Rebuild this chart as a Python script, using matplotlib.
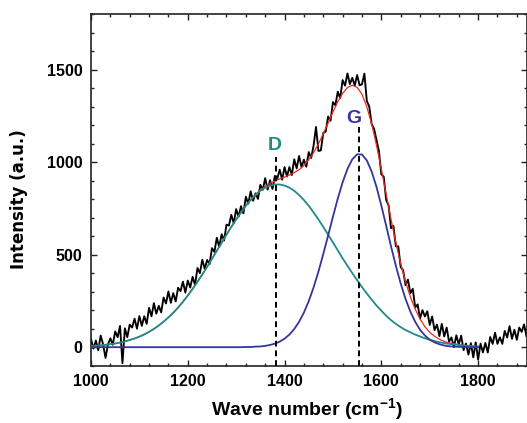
"""
plot.py - Raman spectrum with D / G band deconvolution
"""

import matplotlib
matplotlib.use("Agg")
import matplotlib.pyplot as plt
from matplotlib.ticker import MultipleLocator

# ----------------------------------------------------------------------
# DATA
# ----------------------------------------------------------------------
# measured spectrum, 5 cm-1 steps from 1000 to 1900
wn_raw = list(range(1000, 1901, 5))
intensity_raw = [
    45, -8, 36, -16, 63, 15, -58, 14, 48, 13,
    85, 54, 115, -87, 102, 54, 122, 106, 154, 100,
    168, 115, 167, 126, 213, 167, 238, 181, 224, 188,
    268, 236, 301, 240, 292, 247, 321, 303, 354, 295,
    360, 322, 380, 336, 428, 400, 472, 424, 471, 449,
    535, 515, 591, 541, 610, 576, 662, 657, 715, 669,
    746, 705, 762, 723, 813, 775, 842, 791, 831, 801,
    877, 850, 913, 851, 902, 855, 925, 911, 959, 905,
    973, 922, 973, 930, 1015, 966, 1033, 973, 1013, 975,
    1054, 1022, 1089, 1190, 1060, 1063, 1157, 1164, 1246, 1223,
    1324, 1307, 1380, 1346, 1443, 1413, 1479, 1421, 1455, 1414,
    1470, 1415, 1420, 1478, 1330, 1300, 1205, 1180, 1120, 1060,
    934, 921, 795, 767, 643, 655, 545, 545, 433, 416,
    335, 365, 292, 315, 214, 231, 155, 200, 166, 194,
    120, 166, 92, 122, 60, 126, 58, 106, 29, 53,
    0, 64, 15, 62, -16, 20, -40, 22, -55, 26,
    -67, 19, -28, 23, -29, 55, 18, 78, 18, 53,
    18, 88, 52, 114, 45, 94, 40, 106, 83, 123,
    59,
]

# fitted bands, 10 cm-1 steps from 1000 to 1800
wn_fit = list(range(1000, 1801, 10))
band_d = [
    6, 8, 10, 13, 16, 20, 25, 31, 39, 47,
    57, 69, 83, 99, 117, 138, 161, 186, 214, 245,
    279, 315, 353, 393, 434, 477, 521, 564, 608, 650,
    690, 728, 764, 795, 822, 845, 862, 873, 879, 879,
    873, 862, 845, 822, 795, 764, 728, 690, 650, 608,
    566, 523, 480, 440, 400, 362, 325, 290, 257, 225,
    197, 170, 146, 126, 108, 93, 80, 68, 58, 48,
    40, 33, 27, 22, 18, 15, 12, 9, 7, 5,
    4,
]
band_g = [0] * 32 + [
    1, 1, 3, 4, 7, 12, 19, 30,
    46, 68, 98, 137, 187, 249, 323, 408, 503, 603,
    705, 803, 891, 963, 1015, 1042, 1041, 1009, 949, 866,
    765, 656, 545, 440, 344, 261, 192, 137, 94, 63,
    41, 26, 16, 9, 5, 3, 2, 1, 0, 0,
    0,
]
fit_total = [d + g for d, g in zip(band_d, band_g)]

# band positions and labels
band_names = ["D", "G"]
band_pos = [1383, 1553]
marker_top = [1030, 1190]
label_x = [1380, 1543]
label_y = [1088, 1238]

# ----------------------------------------------------------------------
# STYLE
# ----------------------------------------------------------------------
plt.rcParams["font.family"] = ["Liberation Sans", "DejaVu Sans"]
plt.rcParams["font.weight"] = "bold"
plt.rcParams["mathtext.fontset"] = "custom"
plt.rcParams["mathtext.rm"] = "Liberation Sans:bold"
plt.rcParams["mathtext.bf"] = "Liberation Sans:bold"

TEAL = "#1f8a88"
BLUE = "#35359a"
RED = "#ec2a22"

# ----------------------------------------------------------------------
# PLOT
# ----------------------------------------------------------------------
fig = plt.figure(figsize=(5.27, 4.23), dpi=100)
ax = fig.add_axes([91 / 527, 1 - 365.7 / 423, 435.5 / 527, 351.7 / 423])

ax.plot(wn_raw, intensity_raw, color="black", lw=1.35, zorder=2)
ax.plot(wn_fit, fit_total, color=RED, lw=0.9, zorder=3)
ax.plot(wn_fit, band_d, color=TEAL, lw=1.3, zorder=4)
ax.plot(wn_fit, band_g, color=BLUE, lw=1.3, zorder=4)

ax.vlines(band_pos, -100, marker_top, colors="black", lw=1.4,
          linestyles=(0, (3.0, 2.0)), zorder=5)
for name, x, y, c in zip(band_names, label_x, label_y, [TEAL, BLUE]):
    ax.text(x, y, name, color=c, fontsize=14, fontweight="bold",
            ha="center", va="center")

ax.set_xlim(1000, 1900)
ax.set_ylim(-100, 1800)
ax.xaxis.set_major_locator(MultipleLocator(200))
ax.xaxis.set_minor_locator(MultipleLocator(40))
ax.yaxis.set_major_locator(MultipleLocator(500))
ax.yaxis.set_minor_locator(MultipleLocator(100))
ax.set_xticks([1000, 1200, 1400, 1600, 1800])

ax.tick_params(which="both", direction="in", top=True, right=True,
               width=1.0, color="#222222")
ax.tick_params(which="major", length=4.5, pad=6, labelsize=11.5)
ax.tick_params(which="minor", length=2.5)
for lab in ax.get_xticklabels() + ax.get_yticklabels():
    lab.set_fontweight("bold")
for sp in ax.spines.values():
    sp.set_linewidth(1.2)
    sp.set_color("#222222")

fig.text(307 / 527, 1 - 416 / 423, r"Wave number (cm$^{-1}$)",
         fontsize=14, fontweight="bold", ha="center", va="baseline")
fig.text(19 / 527, 1 - 199 / 423, "Intensity (a.u.)", rotation=90,
         fontsize=12, fontweight="bold", family="DejaVu Sans",
         ha="center", va="center")

fig.savefig("out.png", dpi=100)
